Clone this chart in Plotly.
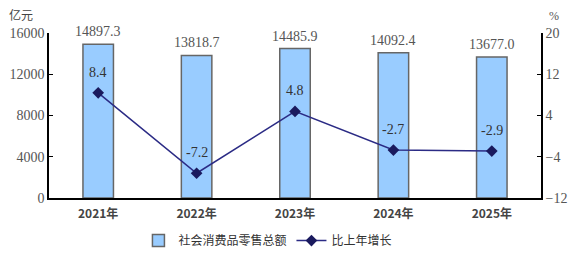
import plotly.graph_objects as go

years = ["2021年", "2022年", "2023年", "2024年", "2025年"]
sales = [14897.3, 13818.7, 14485.9, 14092.4, 13677.0]
growth = [8.4, -7.2, 4.8, -2.7, -2.9]
sales_labels = ["14897.3", "13818.7", "14485.9", "14092.4", "13677.0"]
growth_labels = ["8.4", "-7.2", "4.8", "-2.7", "-2.9"]
left_ticks = [0, 4000, 8000, 12000, 16000]
left_tick_text = ["0", "4000", "8000", "12000", "16000"]
right_ticks = [-12, -4, 4, 12, 20]

num_font = "Liberation Serif"
cjk_font = "Noto Sans CJK SC"

fig = go.Figure()
fig.add_trace(go.Bar(
    x=years, y=sales, name="社会消费品零售总额",
    marker=dict(color="#99CCFF", line=dict(color="#666666", width=1.5)),
    width=0.31,
))
fig.add_trace(go.Scatter(
    x=years, y=growth, name="比上年增长", yaxis="y2",
    mode="lines+markers",
    line=dict(color="#2B2B85", width=1.5),
    marker=dict(symbol="diamond", size=9, color="#1A1A5E"),
))

annotations = []
for x, v, t in zip(years, sales, sales_labels):
    annotations.append(dict(x=x, y=v, text=t, showarrow=False, yanchor="bottom",
                            yshift=3, font=dict(family=num_font, size=14, color="#555555")))
for x, v, t in zip(years, growth, growth_labels):
    annotations.append(dict(x=x, y=v, yref="y2", text=t, showarrow=False, yanchor="bottom",
                            yshift=11, font=dict(family=num_font, size=14, color="#333333")))
annotations.append(dict(xref="paper", yref="paper", x=-0.057, y=1.05, xanchor="center", yanchor="bottom",
                        text="亿元", showarrow=False, font=dict(family=cjk_font, size=12, color="#444444")))
annotations.append(dict(xref="paper", yref="paper", x=1.026, y=1.05, xanchor="center", yanchor="bottom",
                        text="%", showarrow=False, font=dict(family=num_font, size=12, color="#555555")))

fig.update_layout(
    width=577, height=259,
    margin=dict(l=49, r=36, t=33, b=61, autoexpand=False),
    plot_bgcolor="white", paper_bgcolor="white",
    showlegend=True,
    legend=dict(orientation="h", x=0.445, xanchor="center", y=-0.17, yanchor="top",
                font=dict(family=cjk_font, size=12, color="#333333"),
                itemwidth=30, tracegroupgap=0),
    xaxis=dict(showline=True, linecolor="black", linewidth=1.5, ticks="",
               ticklabelstandoff=4,
               tickfont=dict(family=cjk_font, size=12, color="#444444", weight="bold"),
               range=[-0.5, 4.5]),
    yaxis=dict(range=[0, 16000], tickvals=left_ticks, ticktext=left_tick_text, showgrid=False, zeroline=False,
               showline=True, linecolor="black", linewidth=1.5, ticks="inside", ticklen=4,
               tickcolor="black", tickfont=dict(family=num_font, size=14, color="#555555")),
    yaxis2=dict(range=[-12, 20], tickvals=right_ticks, overlaying="y", side="right",
                showgrid=False, zeroline=False, showline=True, linecolor="black", linewidth=1.5,
                ticks="inside", ticklen=4, tickcolor="black",
                tickfont=dict(family=num_font, size=14, color="#555555")),
    annotations=annotations,
)

fig.write_html("out.html")
